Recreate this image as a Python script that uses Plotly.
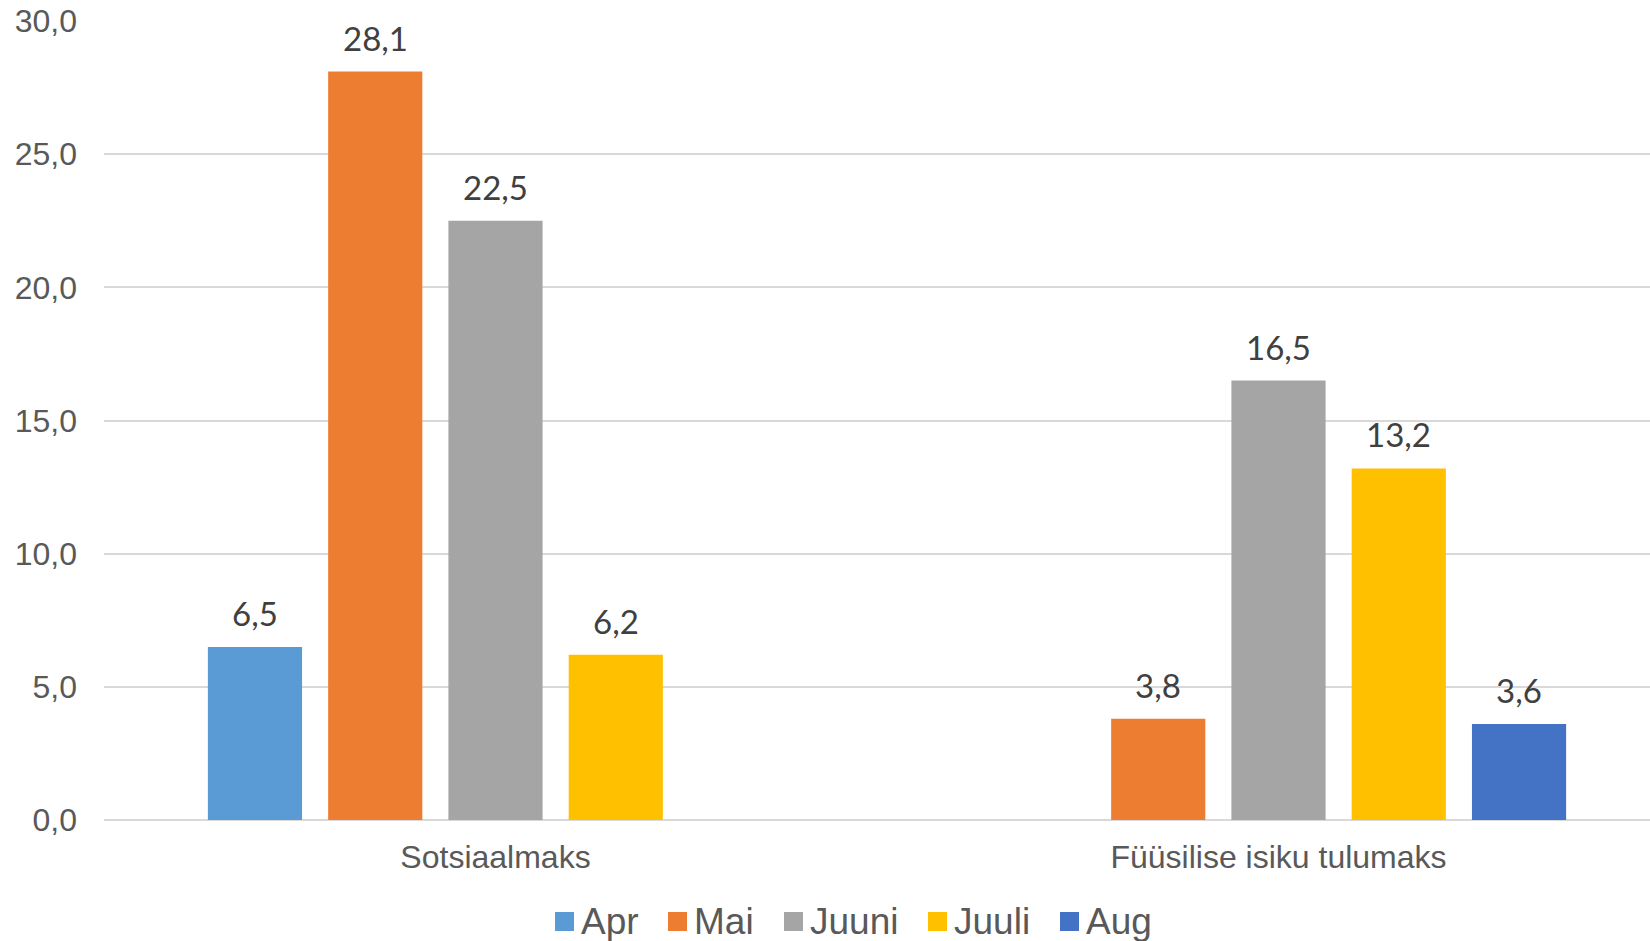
import plotly.graph_objects as go

# ---- data ----
categories = ["Sotsiaalmaks", "Füüsilise isiku tulumaks"]
series_names = ["Apr", "Mai", "Juuni", "Juuli", "Aug"]
apr = [6.5, None]
mai = [28.1, 3.8]
juuni = [22.5, 16.5]
juuli = [6.2, 13.2]
aug = [None, 3.6]
series_values = [apr, mai, juuni, juuli, aug]
colors = ["#5B9BD5", "#ED7D31", "#A5A5A5", "#FFC000", "#4472C4"]
y_ticks = [0, 5, 10, 15, 20, 25, 30]

# ---- layout geometry ----
W, H = 1650, 941
ml, mr, mt, mb = 104, 0, 21, 121
plot_w = W - ml - mr
plot_h = H - mt - mb
cat_px = 783.0
x_range = [-0.5, -0.5 + plot_w / cat_px]
bargap = 0.232
bargroupgap = 0.217
n = len(series_names)
slot_px = cat_px * (1 - bargap) / n

axis_font = dict(family="Liberation Sans, Arial, sans-serif", size=32, color="#595959")
label_font = dict(family="Lato, Carlito, Calibri, sans-serif", size=33, color="#404040")

fig = go.Figure()
annotations = []
for i, (name, vals, col) in enumerate(zip(series_names, series_values, colors)):
    fig.add_trace(go.Bar(
        x=categories, y=vals, name=name,
        marker=dict(color=col, line=dict(width=0)),
        showlegend=False,
    ))
    for cat, v in zip(categories, vals):
        if v is None:
            continue
        annotations.append(dict(
            x=cat, y=v, xref="x", yref="y",
            text=f"{v:.1f}".replace(".", ","),
            showarrow=False, yanchor="bottom", xanchor="center",
            xshift=(i - (n - 1) / 2) * slot_px, yshift=12,
            font=label_font,
        ))

# ---- manual legend ----
legend_sq_left = [555, 668, 784, 928, 1060]
sq = 19
leg_cy = 921.5
shapes = []
def px_to_paper_x(px):
    return (px - ml) / plot_w
def px_to_paper_y(py):
    return (mt + plot_h - py) / plot_h
for name, col, left in zip(series_names, colors, legend_sq_left):
    shapes.append(dict(
        type="rect", xref="paper", yref="paper",
        x0=px_to_paper_x(left), x1=px_to_paper_x(left + sq),
        y0=px_to_paper_y(leg_cy + sq / 2), y1=px_to_paper_y(leg_cy - sq / 2),
        fillcolor=col, line=dict(width=0),
    ))
    annotations.append(dict(
        x=px_to_paper_x(left + sq + 5), y=px_to_paper_y(leg_cy),
        xref="paper", yref="paper", text=name, showarrow=False,
        xanchor="left", yanchor="middle",
        font=dict(family="Liberation Sans, Arial, sans-serif", size=37, color="#595959"),
    ))

fig.update_layout(
    width=W, height=H,
    margin=dict(l=ml, r=mr, t=mt, b=mb, pad=0),
    paper_bgcolor="white", plot_bgcolor="white",
    barmode="group", bargap=bargap, bargroupgap=bargroupgap,
    separators=",.",
    showlegend=False,
    annotations=annotations,
    shapes=shapes,
    xaxis=dict(
        range=x_range, showgrid=False, zeroline=False,
        showline=False, ticks="", tickfont=axis_font,
        ticklabelstandoff=15, fixedrange=True,
    ),
    yaxis=dict(
        range=[0, 30], tickvals=y_ticks, tickformat=".1f",
        showgrid=True, gridcolor="#D9D9D9", gridwidth=1.5,
        zeroline=True, zerolinecolor="#D9D9D9", zerolinewidth=1.5,
        showline=False, ticks="", tickfont=axis_font,
        ticklabelstandoff=26, fixedrange=True,
    ),
)

fig.write_html(
    "out.html",
    config={"displayModeBar": False},
    post_script="document.body.style.margin='0';document.body.style.overflow='hidden';",
)
